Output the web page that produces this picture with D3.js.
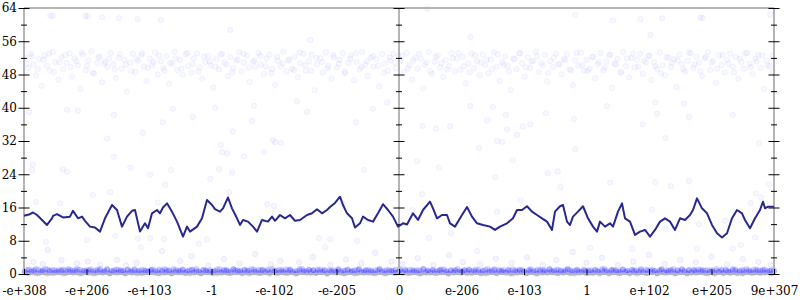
<!DOCTYPE html>
<html>
<head>
<meta charset="utf-8">
<script src="https://cdn.jsdelivr.net/npm/d3@7"></script>
<style>
  body { margin: 0; background: #fff; }
  svg { display: block; }
  .tick line { stroke: #000; }
</style>
</head>
<body>
<div id="chart"></div>
<script>
// Tick labels on the x axis (ordered by float bit pattern)
const xLabels = ["-e+308", "-e+206", "-e+103", "-1", "-e-102", "-e-205", "0",
  "e-206", "e-103", "1", "e+102", "e+205", "9e+307"];
const yMajor = [0, 8, 16, 24, 32, 40, 48, 56, 64];
const yMinor = [4, 12, 20, 28, 36, 44, 52, 60];

// Running line (position along axis, value)
const lineX = [0, 0.08, 0.144, 0.208, 0.368, 0.448, 0.464, 0.528, 0.624, 0.736, 0.784, 0.864, 0.928, 0.976,
  1.056, 1.136, 1.216, 1.296, 1.408, 1.488, 1.568, 1.648, 1.728, 1.776, 1.856, 1.936, 1.984,
  2.048, 2.128, 2.176, 2.224, 2.288, 2.368, 2.448, 2.544, 2.608, 2.656, 2.768, 2.848, 2.928,
  3.008, 3.056, 3.136, 3.184, 3.264, 3.328, 3.408, 3.456, 3.504, 3.584, 3.664, 3.728, 3.808, 3.904, 3.968,
  4.016, 4.096, 4.176, 4.256, 4.336, 4.416, 4.528, 4.608, 4.688, 4.768, 4.848, 4.896, 4.976,
  5.056, 5.104, 5.168, 5.248, 5.296, 5.376, 5.424, 5.504, 5.584, 5.664, 5.744, 5.824, 5.904, 5.984,
  6.064, 6.128, 6.224, 6.304, 6.384, 6.496, 6.544, 6.608, 6.688, 6.768, 6.816, 6.896, 6.976,
  7.088, 7.168, 7.248, 7.344, 7.456, 7.536, 7.616, 7.728, 7.824, 7.888, 7.968,
  8.048, 8.128, 8.208, 8.288, 8.368, 8.448, 8.496, 8.576, 8.624, 8.688, 8.736, 8.784, 8.864, 8.944,
  9.024, 9.104, 9.168, 9.216, 9.296, 9.376, 9.424, 9.504, 9.568, 9.616, 9.696, 9.776, 9.856, 9.936,
  10.016, 10.096, 10.176, 10.256, 10.336, 10.416, 10.496, 10.576, 10.656, 10.704, 10.768, 10.848, 10.928,
  11.008, 11.088, 11.168, 11.248, 11.328, 11.408, 11.488, 11.536, 11.616, 11.696, 11.776, 11.824, 11.856, 11.904, 12];
const lineY = [14.0, 14.3, 14.8, 14.2, 11.8, 13.4, 14.0, 14.4, 13.6, 13.8, 15.2, 13.4, 13.8, 12.8,
  11.4, 11.2, 10.2, 13.4, 16.6, 15.4, 11.4, 13.8, 15.2, 15.4, 10.2, 12.2, 11.0,
  14.6, 15.4, 14.6, 16.0, 17.0, 15.0, 12.6, 9.0, 11.4, 10.2, 11.4, 13.4, 17.8,
  16.6, 15.6, 15.0, 15.8, 18.4, 15.8, 13.4, 11.8, 13.0, 12.6, 11.4, 10.2, 13.0, 12.6, 13.8,
  12.8, 14.2, 13.4, 14.2, 12.8, 13.0, 14.2, 14.6, 15.6, 14.6, 15.4, 16.1, 17.1,
  18.6, 16.6, 14.6, 13.4, 11.2, 12.2, 13.8, 13.0, 12.6, 14.6, 16.8, 15.4, 13.8, 11.4,
  12.2, 11.9, 14.6, 13.0, 15.4, 17.4, 15.8, 13.4, 14.2, 14.2, 12.2, 11.4, 13.4,
  16.1, 13.8, 12.2, 11.8, 11.4, 10.6, 11.4, 12.2, 13.4, 15.4, 15.4,
  16.3, 15.0, 14.2, 13.4, 12.6, 10.6, 15.0, 16.3, 16.6, 12.6, 11.8, 13.8, 15.0, 16.3,
  13.4, 11.4, 10.2, 12.6, 11.4, 12.2, 11.4, 15.0, 17.0, 13.4, 12.6, 9.4, 10.2, 10.6,
  9.0, 10.6, 12.6, 13.4, 12.6, 10.6, 13.4, 13.0, 14.2, 15.4, 18.2, 15.8, 14.6,
  11.8, 9.8, 8.8, 9.8, 13.4, 15.4, 14.6, 13.0, 11.0, 13.4, 15.4, 17.4, 15.8, 16.2, 16.2];

// Scatter: upper band around 50
const bandHigh = [[0.02,52.1],[0.07,49.6],[0.11,53.0],[0.15,50.4],[0.19,47.8],[0.24,51.7],[0.28,45.3],[0.33,52.6],[0.37,50.1],[0.41,48.9],
  [0.46,53.4],[0.50,51.0],[0.55,46.7],[0.60,52.2],[0.63,49.3],[0.68,50.8],[0.73,53.1],[0.77,47.5],[0.81,51.9],[0.86,50.2],
  [0.90,44.6],[0.94,52.8],[0.99,49.0],[1.03,51.4],[1.08,53.6],[1.12,48.2],[1.17,50.7],[1.21,52.3],[1.25,46.1],[1.30,51.1],
  [1.34,49.8],[1.39,53.2],[1.43,50.5],[1.47,47.2],[1.52,52.0],[1.56,49.4],[1.61,51.6],[1.65,43.9],[1.70,50.9],[1.74,53.0],
  [1.78,48.6],[1.83,51.3],[1.88,52.7],[1.92,49.9],[1.96,46.4],[2.01,51.8],[2.05,50.3],[2.10,53.3],[2.14,48.0],[2.19,51.2],
  [2.23,49.6],[2.28,52.4],[2.32,45.8],[2.37,50.6],[2.41,53.5],[2.45,49.1],[2.50,51.5],[2.54,47.9],[2.59,52.9],[2.63,50.0],
  [2.68,48.4],[2.72,51.9],[2.77,53.1],[2.81,49.7],[2.85,46.9],[2.90,51.0],[2.95,52.5],[2.99,50.2],[3.03,44.9],[3.08,51.7],
  [3.12,49.2],[3.17,53.0],[3.21,50.8],[3.26,47.6],[3.30,52.2],[3.35,49.5],[3.39,51.4],[3.44,53.4],[3.48,48.7],[3.52,50.9],
  [3.57,52.6],[3.61,46.2],[3.66,51.1],[3.70,49.8],[3.75,53.2],[3.79,50.4],[3.84,48.1],[3.88,51.8],[3.93,52.8],[3.97,49.3],
  [4.02,45.5],[4.06,51.3],[4.11,50.0],[4.15,53.5],[4.20,48.8],[4.24,51.6],[4.29,49.4],[4.33,52.3],[4.38,47.3],[4.42,50.7],
  [4.47,53.0],[4.51,49.0],[4.56,51.2],[4.60,52.7],[4.65,44.2],[4.69,50.5],[4.74,51.9],[4.78,48.5],[4.83,53.3],[4.87,50.1],
  [4.92,47.0],[4.96,52.1],[5.01,49.7],[5.05,51.5],[5.10,53.1],[5.14,48.3],[5.19,50.8],[5.23,52.5],[5.28,46.6],[5.32,51.0],
  [5.37,49.2],[5.41,53.4],[5.46,50.3],[5.50,47.7],[5.55,52.0],[5.59,49.9],[5.64,51.7],[5.68,45.1],[5.73,52.9],[5.77,50.6],
  [5.82,48.9],[5.86,51.4],[5.91,53.0],[5.95,49.5],[5.99,52.4],
  [6.03,51.3],[6.08,48.6],[6.12,53.2],[6.17,50.2],[6.21,46.8],[6.26,52.0],[6.30,49.4],[6.35,51.8],[6.39,44.7],[6.44,50.9],
  [6.48,53.4],[6.53,48.2],[6.57,51.1],[6.62,52.6],[6.66,49.7],[6.71,47.4],[6.75,51.5],[6.80,50.0],[6.84,53.1],[6.89,48.8],
  [6.93,51.9],[6.98,49.1],[7.02,52.3],[7.07,45.9],[7.11,50.6],[7.16,53.0],[7.20,49.5],[7.25,51.2],[7.29,47.8],[7.34,52.8],
  [7.38,50.3],[7.43,48.3],[7.47,51.6],[7.52,53.3],[7.56,49.9],[7.61,46.5],[7.65,51.0],[7.70,52.4],[7.74,50.1],[7.79,44.3],
  [7.83,51.8],[7.88,49.3],[7.92,53.1],[7.97,50.7],[8.01,47.5],[8.06,52.1],[8.10,49.6],[8.15,51.3],[8.19,53.5],[8.24,48.6],
  [8.28,50.8],[8.33,52.7],[8.37,46.3],[8.42,51.2],[8.46,49.8],[8.51,53.0],[8.55,50.4],[8.60,48.0],[8.64,51.7],[8.69,52.9],
  [8.73,49.2],[8.78,45.4],[8.82,51.4],[8.87,50.1],[8.91,53.3],[8.96,48.9],[9.00,51.5],[9.05,49.4],[9.09,52.2],[9.14,47.1],
  [9.18,50.5],[9.23,53.2],[9.27,49.0],[9.32,51.1],[9.36,52.6],[9.41,44.8],[9.45,50.6],[9.50,51.8],[9.54,48.4],[9.59,53.4],
  [9.63,50.0],[9.68,47.3],[9.72,52.0],[9.77,49.7],[9.81,51.6],[9.86,53.0],[9.90,48.2],[9.95,50.9],[9.99,52.5],[10.04,46.7],
  [10.08,51.0],[10.13,49.3],[10.17,53.3],[10.22,50.2],[10.26,47.8],[10.31,52.1],[10.35,49.8],[10.40,51.7],[10.44,45.0],[10.49,52.8],
  [10.53,50.5],[10.58,48.7],[10.62,51.3],[10.67,53.1],[10.71,49.5],[10.76,52.3],[10.80,50.8],[10.85,47.6],[10.89,51.9],[10.94,53.4],
  [10.98,49.1],[11.03,51.2],[11.07,46.0],[11.12,52.6],[11.16,50.3],[11.21,48.5],[11.25,51.5],[11.30,53.0],[11.34,49.9],[11.39,52.2],
  [11.43,47.0],[11.48,51.0],[11.52,49.4],[11.57,53.2],[11.61,50.6],[11.66,48.1],[11.70,51.8],[11.75,52.7],[11.79,49.6],[11.84,44.5],
  [11.88,51.4],[11.93,50.0],[11.97,52.5]];
const bandHigh2 = [[0.04,50.6],[0.13,52.4],[0.22,49.3],[0.31,51.5],[0.40,53.0],[0.48,48.6],[0.57,50.9],[0.66,52.7],[0.75,49.8],[0.84,51.2],
  [0.92,53.3],[1.01,50.1],[1.10,48.4],[1.19,52.0],[1.28,50.6],[1.36,51.8],[1.45,49.2],[1.54,52.9],[1.63,50.3],[1.72,48.8],
  [1.80,51.7],[1.89,53.1],[1.98,49.6],[2.07,51.0],[2.16,52.6],[2.25,48.9],[2.34,50.8],[2.43,51.9],[2.52,49.4],[2.61,53.2],
  [2.70,50.5],[2.79,48.7],[2.88,52.3],[2.97,51.1],[3.06,49.9],[3.15,52.8],[3.24,50.4],[3.33,48.5],[3.42,51.6],[3.51,53.0],
  [3.60,49.7],[3.69,51.3],[3.78,52.5],[3.87,50.0],[3.96,48.3],[4.05,52.2],[4.14,50.7],[4.23,51.4],[4.32,49.1],[4.41,53.3],
  [4.50,50.2],[4.59,48.9],[4.68,52.0],[4.77,51.0],[4.86,49.5],[4.95,52.7],[5.04,50.6],[5.13,48.6],[5.22,51.8],[5.31,53.1],
  [5.40,49.8],[5.49,51.2],[5.58,52.4],[5.67,50.1],[5.76,48.4],[5.85,52.1],[5.94,50.8],
  [6.05,52.5],[6.14,49.5],[6.23,51.4],[6.32,53.0],[6.41,50.3],[6.50,48.8],[6.59,52.2],[6.68,50.7],[6.77,49.2],[6.86,51.9],
  [6.95,53.2],[7.04,50.0],[7.13,48.5],[7.22,52.6],[7.31,50.9],[7.40,51.6],[7.49,49.3],[7.58,52.9],[7.67,50.4],[7.76,48.7],
  [7.85,51.7],[7.94,53.1],[8.03,49.7],[8.12,51.1],[8.21,52.4],[8.30,50.2],[8.39,48.4],[8.48,52.0],[8.57,50.6],[8.66,51.5],
  [8.75,49.0],[8.84,53.2],[8.93,50.3],[9.02,48.9],[9.11,52.3],[9.20,51.0],[9.29,49.6],[9.38,52.8],[9.47,50.5],[9.56,48.6],
  [9.65,51.9],[9.74,53.0],[9.83,49.9],[9.92,51.3],[10.01,52.5],[10.10,50.0],[10.19,48.3],[10.28,52.1],[10.37,50.8],[10.46,51.4],
  [10.55,49.2],[10.64,53.3],[10.73,50.4],[10.82,48.8],[10.91,52.2],[11.00,50.9],[11.09,49.4],[11.18,52.7],[11.27,50.6],[11.36,48.5],
  [11.45,51.8],[11.54,53.1],[11.63,49.8],[11.72,51.1],[11.81,52.6],[11.90,50.2],[11.98,48.7]];

// Scatter: points near the top edge
const topPts = [[0.42,62.1],[0.46,62.1],[0.98,62.1],[1.02,62.0],[1.25,61.8],[1.52,61.6],[1.82,61.3],[2.19,61.1],
  [6.45,63.8],[9.42,61.0],[9.86,61.3],[10.21,61.5],[10.82,61.7],[10.86,61.6],[11.94,62.4],[8.82,62.3],
  [3.30,58.7],[4.58,56.3],[7.14,57.0],[10.02,57.5]];

// Scatter: sparse points between the bands
const sparsePts = [[0.08,39.0],[0.69,39.5],[0.86,39.3],[1.44,38.3],[2.38,39.8],[2.70,37.8],[3.06,40.0],[3.65,36.8],[3.68,40.5],
  [4.37,41.5],[4.53,39.0],[5.58,39.8],[5.31,36.5],[5.81,41.3],[1.90,34.0],[2.22,36.5],[3.34,34.3],[1.33,32.6],[3.15,31.0],
  [3.17,29.3],[3.25,29.0],[3.98,32.2],[4.02,31.7],[4.11,31.6],[3.84,29.3],[3.52,28.3],[1.44,28.2],[0.13,25.0],[0.14,26.3],
  [0.62,25.2],[0.69,24.6],[1.70,25.6],[2.35,25.0],[3.12,25.2],[3.33,24.4],[5.44,25.0],[2.02,23.9],[2.98,22.9],[2.26,21.4],
  [1.10,19.0],[1.38,19.7],[3.28,19.7],[0.19,17.3],[0.58,17.0],[2.14,17.2],[3.89,16.8],[4.00,16.4],[5.10,16.9],[0.35,7.7],
  [1.01,8.2],[1.46,9.2],[1.82,8.5],[2.02,8.6],[2.24,8.4],[2.93,8.3],[4.72,8.6],[4.90,8.4],[5.33,8.0],[1.87,6.4],[2.80,7.3],[4.82,6.4],
  [7.14,40.4],[7.50,40.2],[9.33,40.4],[10.10,41.3],[10.56,41.0],[8.35,38.7],[7.71,38.3],[8.80,37.3],[10.13,38.6],[10.64,37.8],
  [11.34,38.3],[7.41,37.0],[6.38,35.6],[6.59,35.0],[6.82,35.5],[7.98,35.5],[8.10,36.0],[9.90,36.0],[7.73,34.8],[7.89,33.5],
  [7.57,32.0],[7.65,31.8],[7.28,30.3],[8.82,30.0],[10.26,32.7],[11.76,31.4],[6.29,27.2],[6.64,25.6],[7.82,27.4],[8.38,24.3],
  [8.54,24.7],[7.54,23.3],[9.38,22.0],[10.10,22.1],[10.35,21.1],[10.64,22.4],[11.92,21.6],[8.58,20.9],[6.37,19.2],[11.71,19.4],
  [11.79,18.4],[11.63,17.1],[6.22,15.4],[7.57,15.0],[7.95,17.7],[10.05,15.5],[10.26,10.9],[10.80,12.0],[11.22,12.8],[6.83,9.8],
  [6.48,8.7],[11.70,8.8],[11.47,7.0],[7.25,5.5],[9.06,6.3],[9.73,6.1],[10.77,6.1],[11.34,6.1]];

// Scatter: low spread just above the bottom band
const lowSpread = [[0.15,2.9],[0.30,2.4],[0.38,5.8],[0.60,3.3],[0.85,2.6],[1.02,3.0],[1.22,2.2],[1.49,3.4],[1.63,2.1],[1.80,2.7],
  [2.21,5.5],[2.50,3.1],[2.68,4.3],[2.95,2.0],[3.20,3.6],[3.45,2.5],[3.70,4.8],[3.95,2.3],[4.10,3.2],[4.40,2.8],[4.62,4.1],
  [4.90,2.2],[5.15,3.5],[5.40,2.6],[5.62,5.1],[5.88,3.0],[6.05,2.4],[6.30,3.8],[6.55,2.1],[6.80,4.5],[7.02,2.9],[7.30,2.3],
  [7.55,3.7],[7.80,2.6],[8.05,4.0],[8.30,2.2],[8.52,3.3],[8.78,5.3],[9.00,2.7],[9.25,3.9],[9.50,2.1],[9.75,3.0],[10.00,4.6],
  [10.25,2.4],[10.50,3.4],[10.75,2.8],[11.00,4.2],[11.25,2.3],[11.50,3.6],[11.75,2.9],[11.95,2.2]];

// Scatter: dense band at the bottom (x positions and two sets of values)
const bandLowX = [0.01,0.05,0.08,0.12,0.16,0.19,0.23,0.27,0.30,0.34,0.38,0.41,0.45,0.49,0.52,0.56,0.60,0.63,0.67,0.71,0.74,0.78,0.82,0.85,0.89,0.93,0.96,
  1.00,1.04,1.07,1.11,1.15,1.18,1.22,1.26,1.29,1.33,1.37,1.40,1.44,1.48,1.51,1.55,1.59,1.62,1.66,1.70,1.73,1.77,1.81,1.84,1.88,1.92,1.95,1.99,
  2.03,2.06,2.10,2.14,2.17,2.21,2.25,2.28,2.32,2.36,2.39,2.43,2.47,2.50,2.54,2.58,2.61,2.65,2.69,2.72,2.76,2.80,2.83,2.87,2.91,2.94,2.98,
  3.02,3.05,3.09,3.13,3.16,3.20,3.24,3.27,3.31,3.35,3.38,3.42,3.46,3.49,3.53,3.57,3.60,3.64,3.68,3.71,3.75,3.79,3.82,3.86,3.90,3.93,3.97,
  4.01,4.04,4.08,4.12,4.15,4.19,4.23,4.26,4.30,4.34,4.37,4.41,4.45,4.48,4.52,4.56,4.59,4.63,4.67,4.70,4.74,4.78,4.81,4.85,4.89,4.92,4.96,
  5.00,5.03,5.07,5.11,5.14,5.18,5.22,5.25,5.29,5.33,5.36,5.40,5.44,5.47,5.51,5.55,5.58,5.62,5.66,5.69,5.73,5.77,5.80,5.84,5.88,5.91,5.95,5.99,
  6.02,6.06,6.10,6.13,6.17,6.21,6.24,6.28,6.32,6.35,6.39,6.43,6.46,6.50,6.54,6.57,6.61,6.65,6.68,6.72,6.76,6.79,6.83,6.87,6.90,6.94,6.98,
  7.01,7.05,7.09,7.12,7.16,7.20,7.23,7.27,7.31,7.34,7.38,7.42,7.45,7.49,7.53,7.56,7.60,7.64,7.67,7.71,7.75,7.78,7.82,7.86,7.89,7.93,7.97,
  8.00,8.04,8.08,8.11,8.15,8.19,8.22,8.26,8.30,8.33,8.37,8.41,8.44,8.48,8.52,8.55,8.59,8.63,8.66,8.70,8.74,8.77,8.81,8.85,8.88,8.92,8.96,8.99,
  9.03,9.07,9.10,9.14,9.18,9.21,9.25,9.29,9.32,9.36,9.40,9.43,9.47,9.51,9.54,9.58,9.62,9.65,9.69,9.73,9.76,9.80,9.84,9.87,9.91,9.95,9.98,
  10.02,10.06,10.09,10.13,10.17,10.20,10.24,10.28,10.31,10.35,10.39,10.42,10.46,10.50,10.53,10.57,10.61,10.64,10.68,10.72,10.75,10.79,10.83,10.86,10.90,10.94,10.97,
  11.01,11.05,11.08,11.12,11.16,11.19,11.23,11.27,11.30,11.34,11.38,11.41,11.45,11.49,11.52,11.56,11.60,11.63,11.67,11.71,11.74,11.78,11.82,11.85,11.89,11.93,11.96,12.00];
const bandLowY = [0.4,1.0,0.2,0.8,0.5,1.2,0.1,0.7,0.9,0.3,1.1,0.6,0.2,0.9,0.4,1.0,0.7,0.1,0.8,1.2,0.5,0.3,0.9,0.6,1.1,0.2,0.8,
  0.4,1.0,0.6,0.1,0.9,0.5,1.2,0.3,0.7,1.0,0.2,0.8,0.5,1.1,0.4,0.9,0.6,0.1,1.0,0.7,0.3,1.2,0.5,0.8,0.2,1.0,0.6,0.4,
  0.9,1.1,0.3,0.7,0.1,0.8,1.2,0.5,0.9,0.2,0.6,1.0,0.4,0.8,1.1,0.3,0.7,0.1,0.9,0.5,1.2,0.6,0.2,1.0,0.8,0.4,0.9,
  0.1,0.7,1.1,0.5,0.3,1.0,0.8,0.2,0.6,1.2,0.4,0.9,0.7,0.1,1.0,0.5,0.8,0.3,1.1,0.6,0.2,0.9,1.0,0.4,0.7,0.1,1.2,
  0.5,0.8,0.3,1.0,0.6,0.2,0.9,1.1,0.4,0.7,0.1,0.8,1.2,0.5,0.3,1.0,0.6,0.9,0.2,0.7,1.1,0.4,0.8,0.1,1.0,0.5,0.9,
  0.3,1.2,0.6,0.2,0.8,1.0,0.4,0.7,0.1,0.9,1.1,0.5,0.3,0.8,1.0,0.6,0.2,0.9,0.4,1.2,0.7,0.1,1.0,0.5,0.8,0.3,1.1,0.6,
  0.9,0.3,1.1,0.6,0.2,1.0,0.7,0.4,0.9,0.1,1.2,0.5,0.8,0.3,1.0,0.6,0.2,0.9,1.1,0.4,0.7,0.1,1.0,0.5,0.8,1.2,0.3,
  0.6,0.9,0.2,1.0,0.7,0.4,1.1,0.5,0.1,0.8,1.0,0.3,0.6,0.9,1.2,0.2,0.7,0.5,1.0,0.4,0.8,0.1,1.1,0.6,0.3,0.9,1.0,
  0.5,0.2,0.8,1.2,0.4,0.7,0.1,0.9,1.0,0.6,0.3,1.1,0.5,0.8,0.2,1.0,0.7,0.4,0.9,1.2,0.1,0.6,0.8,1.0,0.3,0.5,1.1,0.7,
  0.2,0.9,0.4,1.0,0.6,0.1,0.8,1.2,0.5,0.3,0.9,1.0,0.7,0.2,0.6,1.1,0.4,0.8,0.1,1.0,0.5,0.9,0.3,1.2,0.6,0.2,0.8,
  1.0,0.4,0.7,0.1,0.9,1.1,0.5,0.3,0.8,1.0,0.6,0.2,0.9,0.4,1.2,0.7,0.1,1.0,0.5,0.8,0.3,1.1,0.6,0.9,0.2,1.0,0.4,
  0.7,0.1,1.2,0.5,0.8,0.3,1.0,0.6,0.2,0.9,1.1,0.4,0.7,0.1,0.8,1.2,0.5,0.3,1.0,0.6,0.9,0.2,0.7,1.1,0.4,0.8,0.1,0.9];
const bandLowY2 = [0.7,0.3,1.1,0.5,0.9,0.2,1.0,0.4,0.6,1.2,0.1,0.8,1.0,0.3,0.7,0.5,0.9,1.1,0.2,0.6,1.0,0.8,0.4,1.2,0.1,0.7,0.5,
  0.9,0.3,1.1,0.6,0.2,1.0,0.8,0.4,0.7,1.2,0.1,0.5,0.9,0.3,1.0,0.6,0.8,0.2,1.1,0.4,0.7,0.9,0.1,0.5,1.0,0.3,0.8,0.6,
  1.0,0.4,0.8,0.2,1.1,0.6,0.3,0.9,0.7,0.1,1.2,0.5,0.8,0.4,1.0,0.2,0.6,0.9,1.1,0.3,0.7,0.5,0.1,1.0,0.8,0.4,0.6,
  0.5,0.7,0.1,1.2,0.4,0.8,1.0,0.6,0.2,1.1,0.9,0.5,0.7,0.3,1.0,0.8,0.1,1.2,0.6,0.4,1.0,0.2,0.9,0.5,1.1,0.3,0.7,
  0.8,0.2,1.0,0.6,0.4,1.1,0.3,0.9,0.5,0.1,0.7,1.2,0.4,0.8,0.6,1.0,0.2,0.9,0.3,1.1,0.5,0.7,1.0,0.1,0.6,0.8,0.4,
  0.6,1.0,0.3,0.8,0.1,1.1,0.5,0.7,0.9,0.2,1.2,0.4,0.6,1.0,0.3,0.8,0.5,0.1,0.9,1.1,0.4,0.7,0.2,1.0,0.6,0.8,0.3,0.5,
  1.1,0.5,0.8,0.2,1.0,0.4,0.7,0.9,0.1,0.6,1.2,0.3,0.8,0.5,1.0,0.2,0.7,0.9,0.4,1.1,0.6,0.1,0.8,0.3,1.0,0.5,0.7,
  0.4,0.9,0.6,1.1,0.2,0.8,0.5,1.0,0.3,0.7,0.1,1.2,0.6,0.4,0.9,0.2,1.0,0.8,0.5,0.3,1.1,0.7,0.1,0.9,0.6,1.0,0.4,
  0.7,0.2,1.0,0.5,0.8,0.1,1.1,0.6,0.3,0.9,0.4,1.2,0.7,0.5,1.0,0.2,0.8,0.3,0.6,1.1,0.9,0.4,0.1,1.0,0.7,0.5,0.8,0.2,
  0.9,0.5,0.2,1.0,0.7,0.3,1.2,0.6,0.8,0.1,1.0,0.4,0.9,0.6,0.2,1.1,0.5,0.7,0.3,1.0,0.8,0.1,0.6,0.9,0.4,1.1,0.2,
  0.5,1.0,0.8,0.2,0.6,1.1,0.3,0.9,0.4,0.7,1.2,0.1,0.8,0.5,1.0,0.6,0.2,0.9,0.3,1.1,0.7,0.4,1.0,0.5,0.8,0.1,0.6,
  1.0,0.3,0.7,0.5,1.1,0.2,0.9,0.6,0.4,1.2,0.8,0.1,0.7,1.0,0.3,0.5,0.9,0.6,0.2,1.1,0.4,0.8,1.0,0.3,0.7,0.5,0.9,0.6];

// Set up dimensions and margins
const margin = { top: 8, right: 26, bottom: 26, left: 24 };
const width = 800 - margin.left - margin.right;
const height = 300 - margin.top - margin.bottom;
const labelFont = '"DejaVu Serif", "Liberation Serif", serif';

const svg = d3.select("#chart").append("svg")
  .attr("width", 800)
  .attr("height", 300);

const g = svg.append("g")
  .attr("transform", `translate(${margin.left},${margin.top})`);

// Scales
const xScale = d3.scaleLinear().domain([0, 12]).range([0, width]);
const yScale = d3.scaleLinear().domain([0, 64]).range([height, 0]);

// Scatter points
const pointColor = "#3030ff";
function drawPoints(pts, fillOp, strokeOp) {
  g.append("g")
    .selectAll("circle")
    .data(pts)
    .enter()
    .append("circle")
    .attr("cx", (d) => xScale(d[0]))
    .attr("cy", (d) => yScale(d[1]))
    .attr("r", 2.7)
    .attr("fill", pointColor)
    .attr("fill-opacity", fillOp)
    .attr("stroke", pointColor)
    .attr("stroke-opacity", strokeOp)
    .attr("stroke-width", 0.8);
}
drawPoints(bandHigh, 0.035, 0.07);
drawPoints(bandHigh2, 0.035, 0.07);
drawPoints(topPts, 0.04, 0.08);
drawPoints(sparsePts, 0.04, 0.08);
drawPoints(lowSpread, 0.05, 0.1);
drawPoints(bandLowX.map((x, i) => [x, bandLowY[i]]), 0.2, 0.12);
drawPoints(bandLowX.map((x, i) => [x, bandLowY2[i]]), 0.2, 0.12);

// Frame lines: top border, bottom axis and the three vertical axes
const axisGray = "#b4b4b4";
g.append("line").attr("x1", 0).attr("x2", width).attr("y1", yScale(64)).attr("y2", yScale(64))
  .attr("stroke", axisGray).attr("stroke-width", 2);
g.append("line").attr("x1", 0).attr("x2", width).attr("y1", yScale(0)).attr("y2", yScale(0))
  .attr("stroke", axisGray).attr("stroke-width", 2);
[0, 6, 12].forEach((p) => {
  g.append("line").attr("x1", xScale(p)).attr("x2", xScale(p)).attr("y1", 0).attr("y2", height)
    .attr("stroke", axisGray).attr("stroke-width", 2);
});

// Ticks that cross the vertical axes
function crossTicks(p, withLabels) {
  const at = g.append("g").attr("transform", `translate(${xScale(p)},0)`);
  at.append("g").call(d3.axisLeft(yScale).tickValues(yMajor).tickSize(5.5).tickPadding(1.5)
    .tickFormat(withLabels ? d3.format("d") : ""));
  at.append("g").call(d3.axisRight(yScale).tickValues(yMajor).tickSize(5.5).tickFormat(""));
  at.append("g").call(d3.axisLeft(yScale).tickValues(yMinor).tickSize(3).tickFormat(""));
  at.append("g").call(d3.axisRight(yScale).tickValues(yMinor).tickSize(3).tickFormat(""));
  at.selectAll(".domain").remove();
  at.selectAll("g").attr("font-family", labelFont).attr("font-size", 12);
}
crossTicks(0, true);
crossTicks(6, false);
crossTicks(12, false);

// X axis
const xTickVals = xLabels.map((d, i) => i);
const xAxisG = g.append("g").attr("transform", `translate(0,${height})`);
xAxisG.append("g").call(d3.axisBottom(xScale).tickValues(xTickVals).tickSize(1).tickPadding(11)
  .tickFormat((d) => xLabels[d]));
xAxisG.append("g").call(d3.axisTop(xScale).tickValues(xTickVals).tickSize(5).tickFormat(""));
xAxisG.selectAll(".domain").remove();
xAxisG.selectAll("g").attr("font-family", labelFont).attr("font-size", 12);
g.selectAll(".tick text").attr("fill", "#000").style("font-family", labelFont);

// Line
const line = d3.line()
  .x((d) => xScale(d[0]))
  .y((d) => yScale(d[1]));
g.append("path")
  .datum(lineX.map((x, i) => [x, lineY[i]]))
  .attr("d", line)
  .attr("fill", "none")
  .attr("stroke", "#282890")
  .attr("stroke-width", 2)
  .attr("stroke-linejoin", "round");
</script>
</body>
</html>
